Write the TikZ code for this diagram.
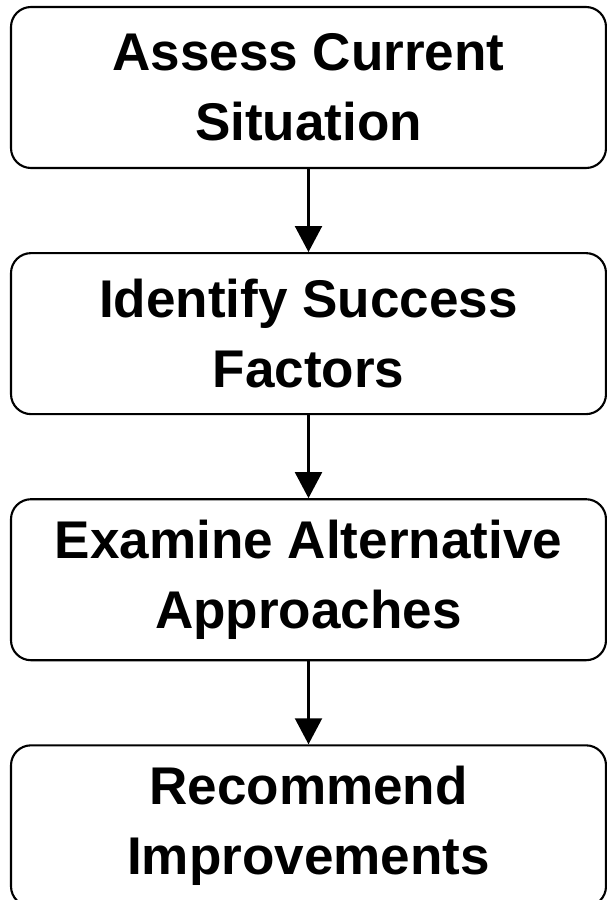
\documentclass[tikz,border=0pt]{standalone}
\usepackage{fontspec}
\setmainfont{Liberation Sans}
\usetikzlibrary{arrows.meta,positioning}

\begin{document}
\begin{tikzpicture}[
        every node/.style={font=\fontsize{15.1}{19.9}\selectfont\bfseries},
        stagebox/.style={draw, line width=0.6pt, rounded corners=0.2cm,
            minimum width=5.95cm, minimum height=1.61cm, align=center, inner sep=0pt},
        flow/.style={-{Triangle[width=0.27cm,length=0.26cm]}, line width=0.6pt}]
        \useasboundingbox (0,0) rectangle (6.07,-9.00);
        % Top stage
        \node[stagebox] (assess) at (3.085,-0.875) {Assess Current\\Situation};
        % Stages below
        \node[stagebox, below=0.83cm of assess] (identify) {Identify Success\\Factors};
        \node[stagebox, below=0.83cm of identify] (examine) {Examine Alternative\\Approaches};
        \node[stagebox, below=0.83cm of examine] (recommend) {Recommend\\Improvements};
        % Arrows
        \draw[flow] (assess) -- (identify);
        \draw[flow] (identify) -- (examine);
        \draw[flow] (examine) -- (recommend);
    \end{tikzpicture}
\end{document}
